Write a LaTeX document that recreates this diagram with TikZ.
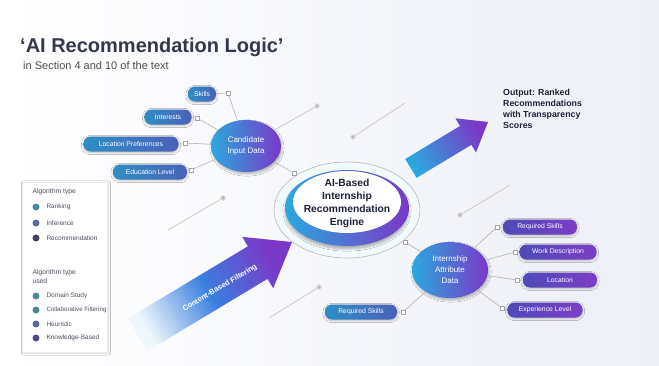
\documentclass[tikz,border=0pt]{standalone}
\usepackage{fontspec}
\setmainfont{Liberation Sans}
\usetikzlibrary{shapes.geometric,shadows.blur}
\definecolor{bgR}{HTML}{EDEFF7}
\definecolor{tealA}{HTML}{2F8EC4}
\definecolor{blueB}{HTML}{4A62B8}
\definecolor{purA}{HTML}{4F4AB8}
\definecolor{purB}{HTML}{7A3EC6}
\definecolor{cyanC}{HTML}{2BA8DE}
\definecolor{blueM}{HTML}{3A7FE0}
\definecolor{purC}{HTML}{7A38C8}
\definecolor{inkC}{HTML}{1E2238}
\definecolor{lgA}{HTML}{4A8A9C}
\definecolor{lgB}{HTML}{5868A2}
\definecolor{lgC}{HTML}{463E62}
\definecolor{lgD}{HTML}{4A8890}
\definecolor{lgE}{HTML}{5A4A8C}
\tikzset{
  pillbase/.style={rounded corners=7pt, minimum height=15pt, inner xsep=4pt, inner ysep=0pt,
    text=white, font=\fontsize{6.8}{7}\selectfont,
    blur shadow={shadow blur steps=6, shadow xshift=0pt, shadow yshift=-1pt, shadow opacity=25}},
  pillL/.style={pillbase, left color=tealA, right color=blueB},
  pillR/.style={pillbase, left color=purA, right color=purB},
  hub/.style={ellipse, inner sep=0pt, left color=cyanC, right color=purC, text=white, align=center,
    font=\fontsize{8}{11}\selectfont,
    blur shadow={shadow blur steps=8, shadow xshift=1pt, shadow yshift=-2pt, shadow opacity=30}},
  sq/.style={draw=gray!70, fill=white, line width=0.4pt, minimum size=4pt, inner sep=0pt},
  link/.style={draw=gray!60, line width=0.6pt},
  faint/.style={draw=gray!45, line width=0.7pt},
  fdot/.style={circle, fill=gray!55, draw=gray!25, line width=1pt, minimum size=4.5pt, inner sep=0pt},
  lgtext/.style={anchor=west, font=\fontsize{6.5}{7}\selectfont, text=inkC!80},
  lgdot/.style={circle, minimum size=7pt, inner sep=0pt},
}
\begin{document}
\begin{tikzpicture}[x=1pt,y=-1pt]
\useasboundingbox (0,0) rectangle (659,365);
\shade[left color=white, right color=bgR] (0,0) rectangle (659,365);

% title
\node[anchor=west, inner sep=0pt, font=\fontsize{20}{24}\selectfont\bfseries, text=inkC!90] (title) at (20,47) {‘AI Recommendation Logic’};
\node[anchor=west, inner sep=0pt, font=\fontsize{11}{12}\selectfont, text=gray!60!black] (subtitle) at (23,66) {in Section 4 and 10 of the text};

% faint decorative lines
\node[fdot] (d2) at (353,137) {};
\coordinate (e2) at (405,103);
\draw[faint] (e2) -- (d2);
\node[fdot] (d3) at (460,215) {};
\coordinate (e3) at (510,185);
\draw[faint] (e3) -- (d3);
\node[fdot] (d4) at (223,198) {};
\coordinate (e4) at (168,230);
\draw[faint] (e4) -- (d4);
\node[fdot] (d5) at (319,287) {};
\coordinate (e5) at (269,318);
\draw[faint] (e5) -- (d5);

% big arrow (Content-Based Filtering)
\shade[left color=cyanC!8, right color=purC, middle color=blueM, shading angle=121]
  (292,242) -- (242.3,236.9) -- (247.9,246.3) -- (127.9,318.4) -- (147.5,351.0)
  -- (267.5,278.9) -- (273.2,288.3) -- cycle;
\node[rotate=31, text=white, font=\fontsize{7.5}{8}\selectfont\bfseries] (cbf) at (220,288) {Content-Based Filtering};

% output arrow
\shade[left color=cyanC, right color=purC, shading angle=121]
  (488,122) -- (455.4,118.3) -- (460.0,126.0) -- (405.2,159.0) -- (416.6,177.8)
  -- (471.4,144.8) -- (476.0,152.5) -- cycle;
\node[anchor=north west, align=left, inner sep=0pt, font=\fontsize{8.8}{11}\selectfont\bfseries, text=inkC] (output) at (503,89) {Output: Ranked\\Recommendations\\with Transparency\\Scores};

% engine
\node[ellipse, minimum width=146pt, minimum height=96pt, draw=gray!55, line width=0.6pt, fill=cyanC!6] (halo) at (347,210) {};
\node[ellipse, minimum width=124pt, minimum height=76pt, inner sep=0pt, left color=cyanC, right color=purC,
  blur shadow={shadow blur steps=8, shadow xshift=0pt, shadow yshift=-3pt, shadow opacity=30}] (engine) at (347,208) {};
\node[ellipse, minimum width=108pt, minimum height=62pt, inner sep=0pt, fill=white] (face) at (347,202) {};
\node[align=center, font=\fontsize{10.3}{13}\selectfont\bfseries, text=inkC] (enginetext) at (347,203) {AI-Based\\Internship\\Recommendation\\Engine};

% hubs
\node[hub, minimum width=70pt, minimum height=52pt] (cand) at (246,146) {Candidate\\Input Data};
\node[hub, minimum width=76pt, minimum height=56pt] (intern) at (450,270) {Internship\\Attribute\\Data};

\node[fdot] (d1) at (317,106) {};
\draw[faint] (cand) -- (d1);

% candidate pills
\node[pillL, minimum width=28pt] (skills) at (202,94) {Skills};
\node[pillL, minimum width=47pt] (interests) at (168,117) {Interests};
\node[pillL, minimum width=95pt] (locpref) at (131,144) {Location Preferences};
\node[pillL, minimum width=74pt] (edu) at (150,172) {Education Level};
\node[sq] (sqa) at (228,93) {};
\node[sq] (sqb) at (197,118) {};
\node[sq] (sqc) at (185,143) {};
\node[sq] (sqd) at (191,170) {};
\draw[link] (skills) -- (sqa) -- (cand);
\draw[link] (interests) -- (sqb) -- (cand);
\draw[link] (locpref) -- (sqc) -- (cand);
\draw[link] (edu) -- (sqd) -- (cand);

% engine links
\node[sq] (sqe) at (294,173) {};
\node[sq] (sqf) at (405,242) {};
\draw[link] (cand) -- (sqe);
\draw[link] (sqf) -- (intern);

% internship pills
\node[pillR, minimum width=74pt] (rskills) at (540,227) {Required Skills};
\node[pillR, minimum width=77pt] (workdesc) at (558,252) {Work Description};
\node[pillR, minimum width=74pt] (loc) at (560,280) {Location};
\node[pillR, minimum width=75pt] (exp) at (545,310) {Experience Level};
\node[pillL, minimum width=72pt] (rskills2) at (361,312) {Required Skills};
\node[sq] (sqg) at (497,227) {};
\node[sq] (sqh) at (515,252) {};
\node[sq] (sqi) at (517,280) {};
\node[sq] (sqj) at (502,308) {};
\node[sq] (sqk) at (403,312) {};
\draw[link] (intern) -- (sqg) -- (rskills);
\draw[link] (intern) -- (sqh) -- (workdesc);
\draw[link] (intern) -- (sqi) -- (loc);
\draw[link] (intern) -- (sqj) -- (exp);
\draw[link] (intern) -- (sqk) -- (rskills2);

% legend
\node[draw=gray!15, fill=white, minimum width=85pt, minimum height=170pt, inner sep=0pt,
  blur shadow={shadow blur steps=6, shadow xshift=1pt, shadow yshift=-1pt, shadow opacity=15}] (legend) at (65,267) {};
\node[lgtext, font=\fontsize{6.8}{7.5}\selectfont] (lh1) at (29,192) {Algorithm type};
\node[lgdot, fill=lgA] (b1) at (36,207) {};
\node[lgtext] (t1) at (43,207) {Ranking};
\node[lgdot, fill=lgB] (b2) at (36,223) {};
\node[lgtext] (t2) at (43,223) {Inference};
\node[lgdot, fill=lgC] (b3) at (36,238) {};
\node[lgtext] (t3) at (43,238) {Recommendation};
\node[lgtext, align=left, font=\fontsize{6.8}{9}\selectfont] (lh2) at (29,277) {Algorithm type\\used};
\node[lgdot, fill=lgA] (b4) at (36,296) {};
\node[lgtext] (t4) at (43,296) {Domain Study};
\node[lgdot, fill=lgD] (b5) at (36,310) {};
\node[lgtext, font=\fontsize{6.2}{7}\selectfont] (t5) at (43,310) {Collaborative Filtering};
\node[lgdot, fill=lgB] (b6) at (36,324) {};
\node[lgtext] (t6) at (43,324) {Heuristic};
\node[lgdot, fill=lgE] (b7) at (36,338) {};
\node[lgtext] (t7) at (43,338) {Knowledge-Based};
\end{tikzpicture}
\end{document}
